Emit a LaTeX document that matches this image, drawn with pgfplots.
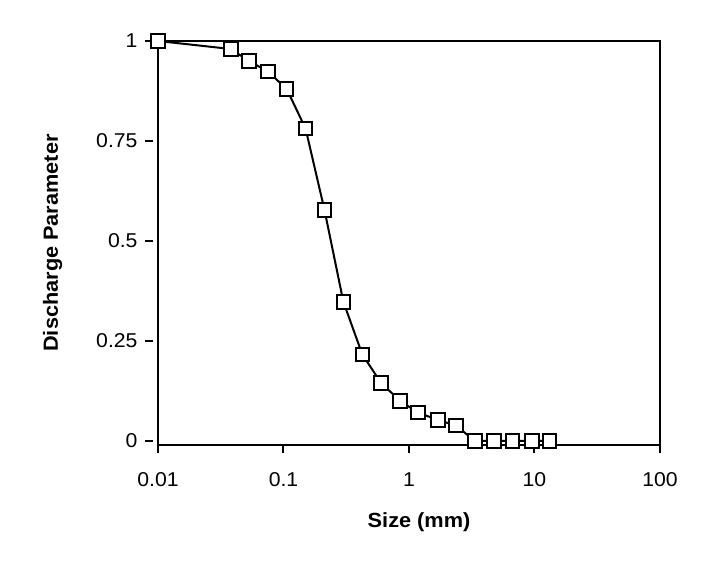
\documentclass[border=0pt]{standalone}
\usepackage{pgfplots}
\pgfplotsset{compat=1.18}
\usepackage{fontspec}
\setmainfont{Liberation Sans}[FakeStretch=1.06]
\begin{document}
\begin{tikzpicture}
\begin{axis}[
  scale only axis,
  width=502pt, height=404pt,
  xmode=log,
  xmin=0.01, xmax=100,
  ymin=-0.01, ymax=1,
  xtick={0.01,0.1,1,10,100},
  xticklabels={0.01,0.1,1,10,100},
  ytick={0,0.25,0.5,0.75,1},
  yticklabels={0,0.25,0.5,0.75,1},
  xminorticks=false, yminorticks=false,
  tick align=outside,
  xtick pos=bottom, ytick pos=left,
  major tick length=8pt,
  every tick/.style={line width=2pt, black},
  ytick style={xshift=-5pt},
  axis line style={line width=2pt},
  xticklabel shift=16pt,
  yticklabel shift=9pt,
  tick label style={font=\fontsize{20}{24}\selectfont},
  label style={font=\fontsize{20.5}{24}\selectfont\bfseries},
  xlabel={Size (mm)},
  ylabel={Discharge Parameter},
  x label style={at={(axis description cs:0.52,-0.2054)}, anchor=base},
  y label style={at={(axis description cs:-0.21,0.5)}, anchor=center},
  clip=false,
]
\addplot[black, line width=2pt, mark=square*, mark size=6.8pt,
  mark options={fill=white, line width=2pt, solid}] coordinates {
(0.01,1.0)
(0.038,0.98)
(0.053,0.95)
(0.075,0.924)
(0.106,0.88)
(0.15,0.781)
(0.212,0.578)
(0.3,0.348)
(0.425,0.216)
(0.6,0.145)
(0.85,0.10)
(1.18,0.071)
(1.7,0.0525)
(2.36,0.039)
(3.35,0)
(4.75,0)
(6.7,0)
(9.5,0)
(13.2,0)
};
\end{axis}
\path[use as bounding box] (-158pt,-116pt) rectangle (547pt,445pt);
\end{tikzpicture}
\end{document}
